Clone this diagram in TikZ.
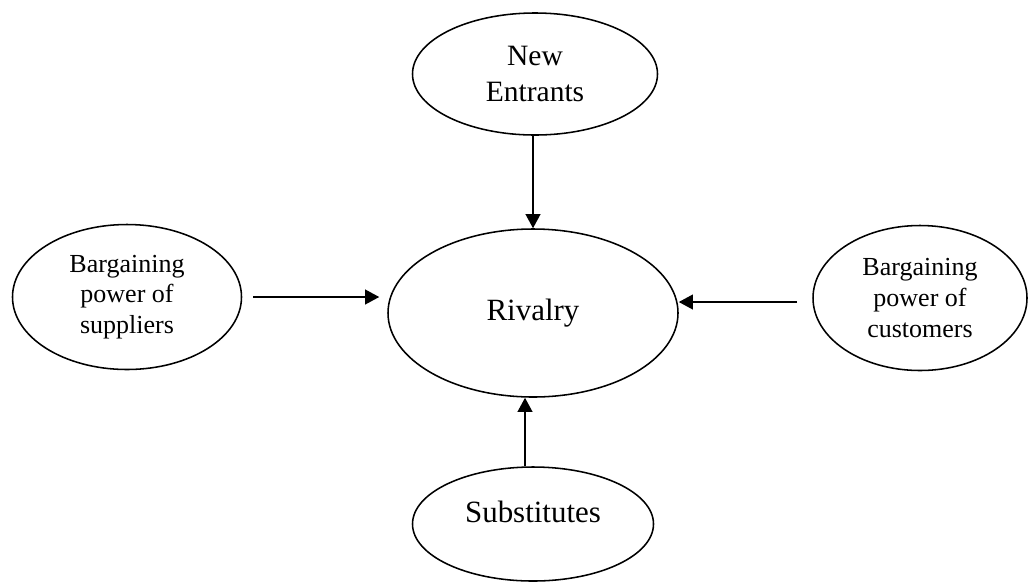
\documentclass[tikz,border=0pt]{standalone}
\usepackage{fontspec}
\setmainfont{Liberation Serif}
\usetikzlibrary{shapes.geometric,arrows.meta}
\begin{document}
\begin{tikzpicture}[x=0.025cm,y=-0.025cm,force/.style={shape=ellipse,draw=black,line width=1.1pt,inner sep=0pt,align=center},forceS/.style={force,font=\fontsize{18.5}{21.8}\selectfont},forceB/.style={force,font=\fontsize{22}{25.6}\selectfont},push/.style={line width=1.1pt,-{Triangle[length=10pt,width=10.5pt]}}]
\def\u{0.025cm}
\def\fw{229*\u}
\def\fh{145*\u}

\useasboundingbox (0,0) rectangle (1029,581);

\node[forceB,font=\fontsize{21}{25.6}\selectfont,minimum width=245*\u,minimum height=122*\u] (N) at (535,74) {New\\Entrants};
\node[forceB,minimum width=290*\u,minimum height=168*\u] (R) at (533,313) {Rivalry};
\node[forceS,minimum width=\fw,minimum height=\fh] (S) at (127,297) {Bargaining\\power of\\suppliers};
\node[forceS,minimum width=214*\u,minimum height=\fh] (C) at (920,298) {Bargaining\\power of\\customers};
\node[force,minimum width=241*\u,minimum height=114*\u,label={[font=\fontsize{22}{25.6}\selectfont,yshift=0.3cm,name=Bt]center:Substitutes}] (B) at (533,524) {};

\draw[push] ([xshift=-2*\u]N.south) -- ([xshift=-2*\u]N.south |- R.north);
\draw[push,shorten <=11*\u,shorten >=8*\u] (S.east) -- (S.east -| R.west);
\draw[push,shorten <=15*\u] ([yshift=-4*\u]C.west) -- ([yshift=-4*\u]C.west -| R.east);
\draw[push] ([xshift=-8*\u]B.north) -- ([xshift=-8*\u]B.north |- R.south);
\end{tikzpicture}
\end{document}
